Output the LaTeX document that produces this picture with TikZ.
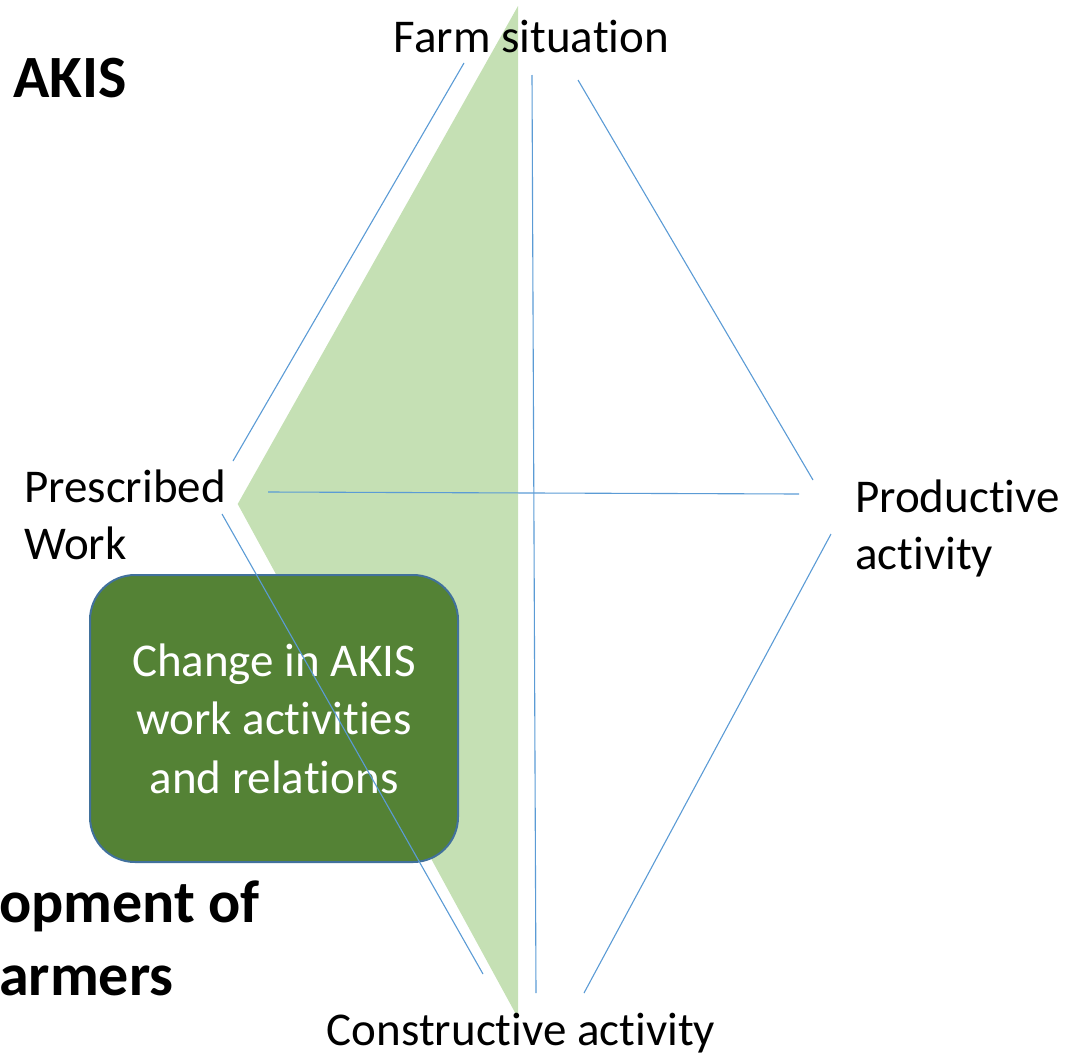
\documentclass[tikz,border=0pt]{standalone}
\usepackage{fontspec}
\setmainfont{Carlito}[Ligatures=NoCommon]
\definecolor{tri}{HTML}{C5E0B4}
\definecolor{boxfill}{HTML}{548235}
\definecolor{boxedge}{HTML}{41719C}
\definecolor{ln}{HTML}{5B9BD5}
\tikzset{
  lbl/.style={inner sep=0pt, font=\fontsize{47}{57}\selectfont, align=left},
  big/.style={inner sep=0pt, font=\fontsize{60}{73}\selectfont\bfseries, align=left},
  link/.style={draw=ln, line width=1.1pt},
  changebox/.style={draw=boxedge, line width=2pt, fill=boxfill, rounded corners=45pt,
    minimum width=368pt, minimum height=287pt, inner sep=0pt, text=white,
    align=center, font=\fontsize{47}{58.5}\selectfont}
}
\begin{document}
\begin{tikzpicture}[x=1pt,y=-1pt]
\useasboundingbox (0,0) rectangle (1071,1055);
% green triangle
\fill[tri] (518,6) -- (237.7,504) -- (518,1018) -- cycle;
% box
\node[changebox] (chg) at (274,718.5) {Change in AKIS\\work activities\\and relations};
% line end points
\coordinate (a1) at (464,63);  \coordinate (a2) at (233,461);
\coordinate (b1) at (532,75);  \coordinate (b2) at (536,993);
\coordinate (c1) at (578,80);  \coordinate (c2) at (813,480);
\coordinate (d1) at (268,492); \coordinate (d2) at (799,494);
\coordinate (e1) at (831,534); \coordinate (e2) at (584,993);
\coordinate (f1) at (222,514); \coordinate (f2) at (483,974);
\draw[link] (a1) -- (a2);
\draw[link] (b1) -- (b2);
\draw[link] (c1) -- (c2);
\draw[link] (d1) -- (d2);
\draw[link] (e1) -- (e2);
\draw[link] (f1) -- (f2);
% labels
\node[lbl, anchor=base] (farm) at (531.5,52) {Farm situation};
\node[lbl, anchor=base] (cons) at (521,1045) {Constructive activity};
\node[lbl, anchor=base west] (pres) at (24,559) {Prescribed\\Work};
\node[lbl, anchor=base west] (prod) at (855,569) {Productive\\activity};
\node[big, anchor=base west] (akis) at (13,97) {AKIS};
\node[big, anchor=base west] (dev) at (-1,995) {opment of\\armers};
\end{tikzpicture}
\end{document}
